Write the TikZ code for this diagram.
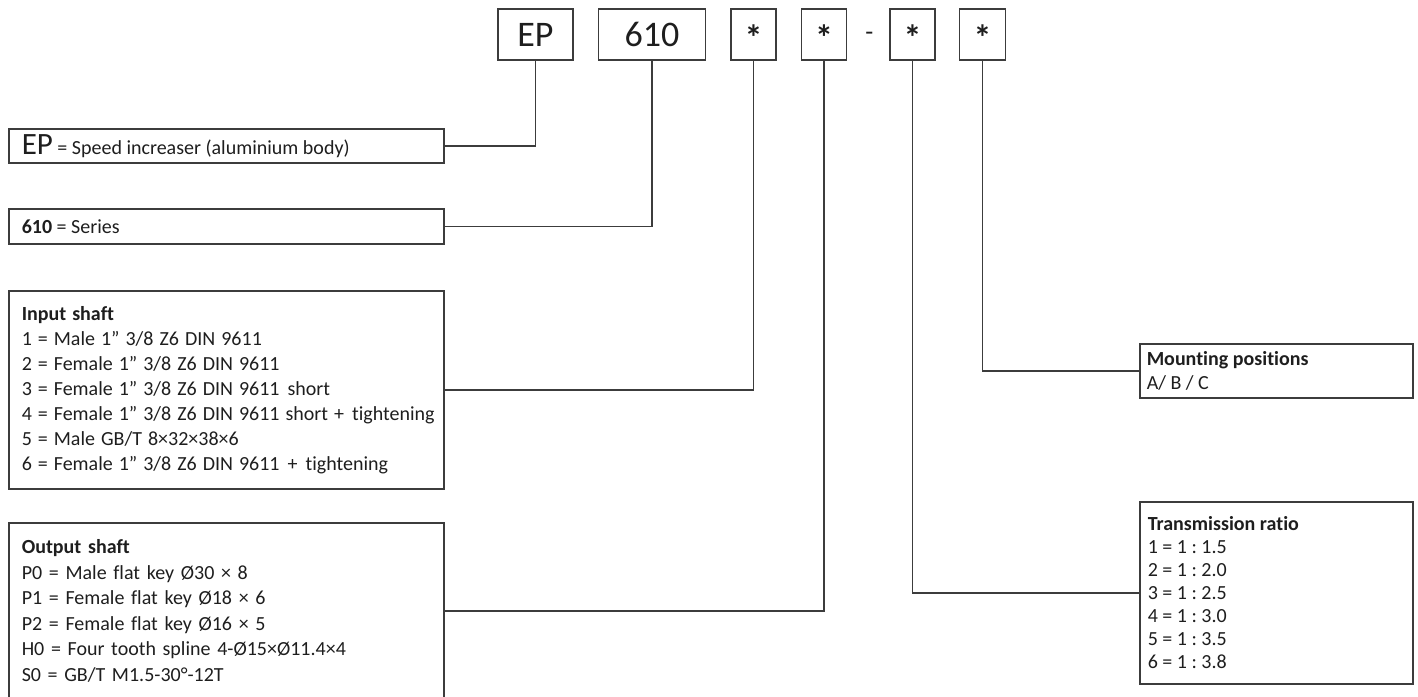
\documentclass[tikz,border=0pt]{standalone}
\usepackage{fontspec}
\setmainfont{Carlito}[Ligatures=NoCommon]
\usetikzlibrary{positioning}
\definecolor{codeline}{RGB}{60, 60, 60}
\definecolor{codetext}{RGB}{30, 30, 30}
\frenchspacing

\begin{document}
\begin{tikzpicture}[
    x=1pt, y=-1pt,
    node distance = 24pt,
    every node/.style = {text=codetext},
    codebox/.style = {draw=codeline, line width=1.5pt, minimum height=51pt,
                      inner sep=0pt, font=\fontsize{36}{40}\selectfont,
                      text height=23pt, text depth=0pt},
    starbox/.style = {codebox, minimum width=45pt, text height=31pt,
                      font=\fontsize{36}{40}\selectfont\bfseries},
    descbox/.style = {draw=codeline, line width=1.5pt, anchor=north west,
                      align=left, inner xsep=13pt, inner ysep=0pt,
                      font=\fontsize{20}{25}\selectfont},
    tightspace/.style = {execute at begin node={\spaceskip=0pt\xspaceskip=0pt\relax}},
    midspace/.style = {execute at begin node={\spaceskip=0.3em\relax}},
    link/.style = {draw=codeline, line width=1.5pt}
]
  \useasboundingbox (0,0) rectangle (1418,696);

  % type code row
  \node[codebox, minimum width=75pt] (ep) at (535.5,34.5) {EP};
  \node[codebox, minimum width=107pt, right=of ep] (series) {610};
  \node[starbox, right=of series] (inshaft) {*};
  \node[starbox, right=of inshaft] (outshaft) {*};
  \node[font=\fontsize{26}{30}\selectfont, inner sep=0pt, right=18pt of outshaft,
        yshift=-2pt] (dash) {-};
  \node[starbox, right=42pt of outshaft] (ratio) {*};
  \node[starbox, minimum width=46pt, right=23pt of ratio] (mount) {*};

  % explanations
  \node[descbox, tightspace, minimum width=435pt, minimum height=34pt, text width=409pt]
    (epdesc) at (8,128) {{\fontsize{31}{31}\selectfont EP} = Speed increaser (aluminium body)};
  \node[descbox, tightspace, minimum width=435pt, minimum height=35pt, text width=409pt]
    (seriesdesc) at (8,208) {\textbf{610} = Series};
  \node[descbox, midspace, minimum width=435pt, minimum height=198pt, text width=409pt]
    (indesc) at (8,290) {\textbf{Input shaft}\\
      1 = Male 1” 3/8 Z6 DIN 9611\\
      2 = Female 1” 3/8 Z6 DIN 9611\\
      3 = Female 1” 3/8 Z6 DIN 9611\hspace{2pt} short\\
      \mbox{4 = Female 1” 3/8 Z6 DIN 9611 short +\hspace{2pt} tightening}\\
      5 = Male GB/T 8×32×38×6\\
      6 = Female 1” 3/8 Z6 DIN 9611\hspace{2pt} +\hspace{2pt} tightening};
  \node[descbox, minimum width=435pt, minimum height=176pt, text width=409pt,
        font=\fontsize{20}{25.5}\selectfont]
    (outdesc) at (8,522) {\textbf{Output shaft}\\
      P0 = Male flat key Ø30 × 8\\
      P1 = Female flat key Ø18 × 6\\
      P2 = Female flat key Ø16 × 5\\
      H0 = Four tooth spline 4-Ø15×Ø11.4×4\\
      S0 = GB/T M1.5-30°-12T};
  \node[descbox, tightspace, minimum width=273pt, minimum height=54pt, inner xsep=7pt,
        text width=259pt, font=\fontsize{20}{24}\selectfont]
    (mountdesc) at (1139,343) {\textbf{Mounting positions}\\ A/ B / C};
  \node[descbox, tightspace, minimum width=273pt, minimum height=182pt, inner xsep=8pt,
        text width=257pt, font=\fontsize{20}{23}\selectfont]
    (ratiodesc) at (1139,501) {\textbf{Transmission ratio}\\
      1 = 1 : 1.5\\ 2 = 1 : 2.0\\ 3 = 1 : 2.5\\ 4 = 1 : 3.0\\ 5 = 1 : 3.5\\ 6 = 1 : 3.8};

  \draw[link] (epdesc.east) -| (ep.south);
  \draw[link] (seriesdesc.east) -| (series.south);
  \draw[link] (indesc.east) -| (inshaft.south);
  \draw[link] (outdesc.east) -| (outshaft.south);
  \draw[link] (ratio.south) |- (ratiodesc.west);
  \draw[link] (mount.south) |- (mountdesc.west);
\end{tikzpicture}
\end{document}
